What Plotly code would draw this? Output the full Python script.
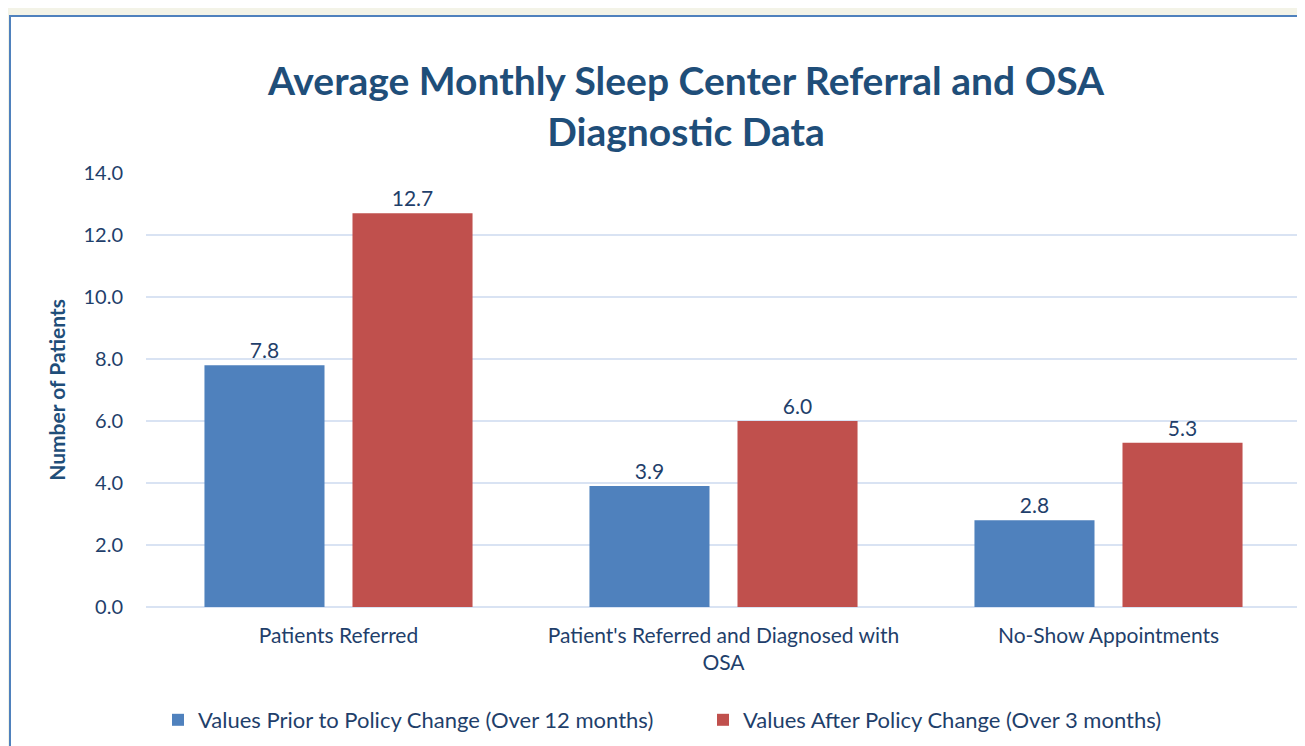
import plotly.graph_objects as go

categories = ["Patients Referred", "Patient's Referred and Diagnosed with<br>OSA", "No-Show Appointments"]
prior_values = [7.8, 3.9, 2.8]
after_values = [12.7, 6.0, 5.3]
series_names = ["Values Prior to Policy Change (Over 12 months)", "Values After Policy Change (Over 3 months)"]
y_ticks = [0, 2, 4, 6, 8, 10, 12, 14]
y_tick_labels = ["0.0", "2.0", "4.0", "6.0", "8.0", "10.0", "12.0", "14.0"]

FONT = "Lato"
TXT = "#1F3F6B"
TITLE_C = "#1F4E79"

OFF = 8  # page body offset
W, H = 1305 - OFF, 746 - OFF
L, R, T, B = 146 - OFF, 4, 173 - OFF, 746 - 607
pw = W - L - R
ph = H - T - B

def px2x(px):
    return (px - OFF - L) / pw

def py2y(py):
    return (H - B - (py - OFF)) / ph

fig = go.Figure()
fig.add_trace(go.Bar(
    x=categories, y=prior_values, name=series_names[0],
    marker=dict(color="#4F81BD", line=dict(width=0)),
    text=[f"{v:.1f}" for v in prior_values], textposition="outside",
    textfont=dict(family=FONT, size=21, color=TXT), cliponaxis=False,
))
fig.add_trace(go.Bar(
    x=categories, y=after_values, name=series_names[1],
    marker=dict(color="#C0504D", line=dict(width=0)),
    text=[f"{v:.1f}" for v in after_values], textposition="outside",
    textfont=dict(family=FONT, size=21, color=TXT), cliponaxis=False,
))

fig.add_shape(type="rect", xref="paper", yref="paper",
              x0=px2x(10), x1=px2x(1330), y0=py2y(770), y1=py2y(16),
              fillcolor="white", line=dict(color="#4F81BD", width=2), layer="below")

fig.update_layout(
    width=W, height=H,
    margin=dict(l=L, r=R, t=T, b=B, autoexpand=False),
    paper_bgcolor="#F3F3E7", plot_bgcolor="white",
    barmode="group", bargap=0.231, bargroupgap=0.189,
    title=dict(text="<b>Average Monthly Sleep Center Referral and OSA<br>Diagnostic Data</b>",
               x=(686 - OFF) / W, xref="container", xanchor="center",
               y=1 - (95 - OFF) / H, yref="container", yanchor="middle",
               font=dict(family=FONT, size=39, color=TITLE_C)),
    font=dict(family=FONT, color=TXT),
    showlegend=True,
    legend=dict(orientation="h", x=px2x(158), xanchor="left", y=py2y(720), yanchor="middle",
                font=dict(family=FONT, size=22, color=TXT), bgcolor="rgba(0,0,0,0)",
                traceorder="normal", entrywidth=500, entrywidthmode="pixels"),
    xaxis=dict(showgrid=False, showline=False, ticks="", ticklabelstandoff=14,
               tickfont=dict(family=FONT, size=21, color=TXT)),
    yaxis=dict(range=[0, 14], tickvals=y_ticks, ticktext=y_tick_labels,
               showgrid=True, gridcolor="#D9E3F3", gridwidth=2,
               zeroline=True, zerolinecolor="#D9E3F3", zerolinewidth=2,
               showline=False, ticks="", ticklabelstandoff=22,
               tickfont=dict(family=FONT, size=20, color=TXT),
               title=dict(text="<b>Number of Patients</b>", standoff=12,
                          font=dict(family=FONT, size=21, color=TITLE_C))),
)

fig.write_html("out.html")
